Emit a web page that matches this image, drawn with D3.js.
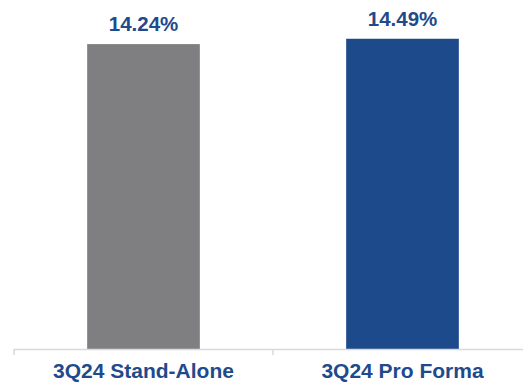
<!DOCTYPE html>
<html>
<head>
<meta charset="utf-8">
<script src="https://cdn.jsdelivr.net/npm/d3@7"></script>
<style>
html,body{margin:0;padding:0;background:#fff;}
svg{display:block;}
</style>
</head>
<body>
<svg id="chart" width="523" height="382"></svg>
<script>
const categories = ["3Q24 Stand-Alone", "3Q24 Pro Forma"];
const values = [14.24, 14.49];
const valueLabels = ["14.24%", "14.49%"];
const barColors = ["#7f7f82", "#1c4a8b"];

const W = 523, H = 382;
const svg = d3.select("#chart");
const axisY = 349;

const x = d3.scaleBand().domain(categories).range([14, 532]).paddingInner(0.565).paddingOuter(0.2825);
const y = d3.scaleLinear().domain([0, 16.3]).range([axisY, 0]);

// bars
svg.selectAll("rect.bar").data(values).enter().append("rect")
  .attr("class", "bar")
  .attr("x", (d, i) => x(categories[i]))
  .attr("width", x.bandwidth())
  .attr("y", d => y(d))
  .attr("height", d => y(0) - y(d))
  .attr("fill", (d, i) => barColors[i]);

// value labels
svg.selectAll("text.val").data(values).enter().append("text")
  .attr("class", "val")
  .attr("x", (d, i) => x(categories[i]) + x.bandwidth() / 2)
  .attr("y", d => y(d) - 13)
  .attr("text-anchor", "middle")
  .attr("font-family", "Liberation Sans, Arial, sans-serif")
  .attr("font-weight", "bold")
  .attr("font-size", "20.5px")
  .attr("fill", "#1f4a8b")
  .text((d, i) => valueLabels[i]);

// axis
const gAxis = svg.append("g").attr("transform", `translate(0,${axisY})`);
const r = x.range();
gAxis.append("line").attr("x1", r[0]).attr("x2", r[1]).attr("y1", 0.5).attr("y2", 0.5)
  .attr("stroke", "#d9d9d9").attr("stroke-width", 1.5);
const step = x.step();
const boundaries = categories.map(c => x(c) - step * x.paddingInner() / 2).concat([x(categories[categories.length-1]) + x.bandwidth() + step * x.paddingInner() / 2]);
gAxis.selectAll("line.tick").data(boundaries).enter().append("line")
  .attr("class", "tick")
  .attr("x1", d => d).attr("x2", d => d).attr("y1", 0).attr("y2", 6)
  .attr("stroke", "#d9d9d9").attr("stroke-width", 1.5);

const labelAxis = d3.axisBottom(x).tickSize(0).tickPadding(0);
const gl = svg.append("g").attr("transform", `translate(0,${axisY})`).call(labelAxis);
gl.select(".domain").remove();
gl.selectAll("text")
  .attr("y", 28.5)
  .attr("dy", 0)
  .attr("font-family", "Liberation Sans, Arial, sans-serif")
  .attr("font-weight", "bold")
  .attr("font-size", "21px")
  .attr("fill", "#1f4a8b");
</script>
</body>
</html>
